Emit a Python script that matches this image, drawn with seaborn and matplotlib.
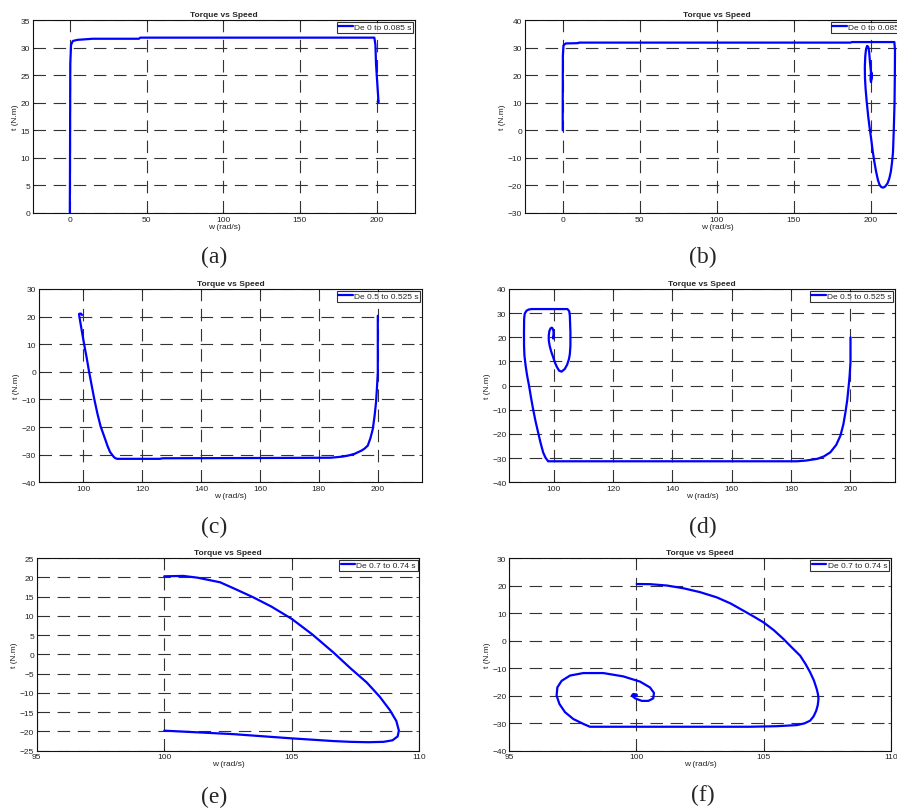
import numpy as np
import pandas as pd
import matplotlib
matplotlib.use("Agg")
import matplotlib.pyplot as plt
import seaborn as sns

sns.set_style("ticks")
plt.rcParams['font.family'] = ['Liberation Sans', 'DejaVu Sans']
plt.rcParams['lines.scale_dashes'] = False

### traced data: speed w (rad/s) and torque t (N.m)

# (a) 0 to 0.085 s
w_a = [0, 0.1, 0.3, 0.8, 2, 5, 15, 45, 46, 120, 198.5, 199.2, 199.6, 200.3, 200.9, 201.2, 200.7, 201.0]
t_a = [0, 7, 27, 30.5, 31.2, 31.4, 31.6, 31.6, 31.8, 31.8, 31.8, 30.5, 27, 24, 21.5, 20, 20.2, 20.4]

# (b) 0 to 0.085 s
w_b = [0, 0, 0.1, 0.5, 2, 10, 10.5, 187, 188, 215.5, 215.9, 215.8, 215.6, 215.1, 214.6,
       214.0, 213.2, 212.2, 211.0, 209.5, 208.2, 207.0, 205.8, 204.8, 203.7, 202.5, 201.4,
       200.4, 199.4, 198.5, 197.5, 196.8, 196.4, 196.3, 196.6, 197.1, 197.8, 198.5, 199.1,
       199.6, 200.1, 200.5, 200.6, 200.3, 200.0, 200.2, 200.6, 200.7, 200.4]
t_b = [0, 8, 27, 30.8, 31.5, 31.6, 31.8, 31.8, 32, 32, 29, 20, 10, 0, -8,
       -11.5, -15, -17.5, -19.3, -20.4, -20.8, -20.6, -19.7, -18, -15.2, -11.5, -7.5,
       -3, 1, 5, 10.5, 15, 19, 23, 27, 29.5, 30.6, 30.3, 28.5,
       25, 22, 20, 18.5, 17.5, 18.5, 20.5, 21, 19.5, 18.5]

# (c) 0.5 to 0.525 s
w_c = [200, 200, 200, 199.7, 199.4, 198.9, 198.3, 197.5, 196.6, 195.5, 194.5, 192.1, 190, 188,
       184, 160, 127, 126, 111.5, 110.8, 110.3, 109.1, 108.2, 107.5, 105.9, 104.8, 103.75,
       102, 101.2, 100.3, 99.5, 98.7, 98.6, 99.2, 99.6]
t_c = [20.3, 5, -0.2, -6, -11, -16, -20.7, -24, -26.7, -27.8, -28.5, -29.7, -30.3, -30.7,
       -31.1, -31.2, -31.3, -31.5, -31.5, -31.2, -30.7, -29, -26.7, -24.5, -19.7, -15, -9.8,
       0, 5, 10.1, 15, 20, 21, 21.1, 20.6]

# (d) 0.5 to 0.525 s
w_d = [200, 200, 199.7, 199.4, 198.9, 198.3, 197.6, 196.6, 195.2, 193.2, 191, 188.8, 185, 182,
       150, 98.1, 97.2, 96.4, 95.5, 94.7, 93.8, 93, 92.3, 91.65, 91, 90.5, 90.1, 89.97, 89.95,
       90, 90.2, 90.8, 91.5, 92.5, 104.6, 105.2, 105.4, 105.6, 105.6, 105.4, 105.1, 104.5,
       103.7, 102.6, 101.8, 101.1, 100.4, 99.8, 99.1, 98.6, 98.3, 98.3, 98.5, 98.9, 99.3,
       99.6, 99.9, 99.9, 99.8, 100.0]
t_d = [20, 9.7, 4, 0, -6, -11, -16, -20.7, -24.5, -27.6, -29.3, -30.3, -31, -31.3,
       -31.3, -31.3, -29.8, -27.6, -23.5, -19.3, -14.5, -9.6, -4.8, 0, 4.2, 8.3, 12.5, 16.5, 22,
       27.6, 29.8, 31, 31.5, 31.7, 31.7, 30.8, 29, 22, 16.5, 13, 11, 8.7,
       6.9, 5.8, 6.2, 7.6, 9.5, 11.7, 14.2, 16.5, 18.8, 20.7, 22.6, 23.7, 24,
       23.7, 22.5, 21.4, 19.5, 20.5]

# (e) 0.7 to 0.74 s
w_e = [100, 100.75, 101.3, 102.19, 102.8, 103.49, 104.2, 105, 105.8, 106.63, 107.3, 107.94,
       108.45, 108.85, 109.1, 109.2, 109.15, 108.95, 108.6, 108.0, 107.3, 106.63, 105,
       102.7, 100]
t_e = [20.25, 20.35, 19.9, 18.7, 16.9, 14.8, 12.4, 9.2, 5.2, 0.5, -3.6, -7.3,
       -11, -14.5, -17.3, -19.8, -21.3, -22.3, -22.7, -22.8, -22.7, -22.5, -21.8,
       -20.7, -19.8]

# (f) 0.7 to 0.74 s
w_f = [100.01, 100.53, 101.2, 101.85, 102.5, 103.16, 103.7, 104.2, 104.6, 105, 105.4, 105.78,
       106.1, 106.44, 106.65, 106.83, 106.98, 107.09, 107.14, 107.16, 107.13, 107.07, 106.97,
       106.83, 106.6, 106.31, 105.52, 104.47, 98.17, 97.92, 97.52, 97.19, 96.97, 96.86, 96.89,
       97.06, 97.39, 97.91, 98.7, 99.48, 100.14, 100.53, 100.69, 100.66, 100.47, 100.21,
       99.95, 99.82, 99.88, 100.01, 100.01, 99.9]
t_f = [20.55, 20.5, 20.0, 19, 17.6, 15.7, 13.5, 10.9, 8.8, 6.6, 3.8, 0.6,
       -2.4, -5.5, -8.5, -11.5, -14.5, -17.6, -19.5, -21.2, -23.5, -25.5, -27.5,
       -29.1, -30.1, -30.7, -31.1, -31.3, -31.3, -30.3, -28.5, -26, -23, -20, -17,
       -14.6, -12.7, -11.8, -11.8, -13, -14.9, -17, -19, -21, -21.9, -21.9,
       -21, -20, -19.4, -19.6, -20.1, -20]

legends = ['De 0 to 0.085 s', 'De 0 to 0.085 s', 'De 0.5 to 0.525 s',
           'De 0.5 to 0.525 s', 'De 0.7 to 0.74 s', 'De 0.7 to 0.74 s']
letters = ['(a)', '(b)', '(c)', '(d)', '(e)', '(f)']

W, H = 897, 812

# axes boxes in pixels: left, top, right, bottom
boxes = [(33, 21, 415, 214), (525, 21, 909, 214),
         (39, 290, 422, 483.3), (509.3, 290, 895, 483.3),
         (36.7, 559, 419.3, 751.7), (509.3, 559, 890.7, 751.7)]
xlims = [(-24, 225), (-24.5, 225), (85, 215), (85, 215), (95, 110), (95, 110)]
ylims = [(0, 35), (-30, 40), (-40, 30), (-40, 40), (-25, 25), (-40, 30)]
xticks = [np.arange(0, 201, 50), np.arange(0, 201, 50), np.arange(100, 201, 20),
          np.arange(100, 201, 20), np.arange(95, 111, 5), np.arange(95, 111, 5)]
yticks = [np.arange(0, 36, 5), np.arange(-30, 41, 10), np.arange(-40, 31, 10),
          np.arange(-40, 41, 10), np.arange(-25, 26, 5), np.arange(-40, 31, 10)]
letter_pos = [(214, 257), (703, 257), (214, 527), (703, 527), (214, 797), (703, 795)]

series = [(w_a, t_a), (w_b, t_b), (w_c, t_c), (w_d, t_d), (w_e, t_e), (w_f, t_f)]

fig = plt.figure(figsize=(W / 100, H / 100), dpi=100)

for i, (w, t) in enumerate(series):
    l, tp, r, b = boxes[i]
    ax = fig.add_axes([l / W, 1 - b / H, (r - l) / W, (b - tp) / H])
    ax.set_axisbelow(True)
    df = pd.DataFrame({'w': w, 't': t})
    sns.lineplot(data=df, x='w', y='t', sort=False, estimator=None, ax=ax,
                 color='#0000ff', lw=1.6, label=legends[i], zorder=3)
    ax.set_xlim(*xlims[i])
    ax.set_ylim(*ylims[i])
    ax.set_xticks(xticks[i])
    ax.set_yticks(yticks[i])
    ax.grid(True, color='#333333', linestyle=(0, (9, 5.5)), lw=0.8, zorder=0)
    ax.tick_params(direction='in', top=True, right=True, length=2.5, width=0.6,
                   labelsize=6, colors='#222222', pad=2)
    for s in ax.spines.values():
        s.set_linewidth(0.8)
        s.set_color('#111111')
    ax.set_title('Torque vs Speed', fontsize=6, fontweight='bold', pad=3)
    ax.set_xlabel('w (rad/s)', fontsize=6, labelpad=0, color='#222222')
    ax.set_ylabel('t (N.m)', fontsize=6, labelpad=1, color='#222222')
    leg = ax.legend(loc='upper right', fontsize=6, frameon=True, fancybox=False,
                    edgecolor='black', borderaxespad=0.2, borderpad=0.2,
                    handlelength=1.7, handletextpad=0.2)
    leg.get_frame().set_linewidth(0.8)
    fig.text(letter_pos[i][0] / W, 1 - letter_pos[i][1] / H, letters[i],
             ha='center', va='center', fontsize=17, family=['Liberation Serif'])

fig.savefig('out.png', dpi=100)
